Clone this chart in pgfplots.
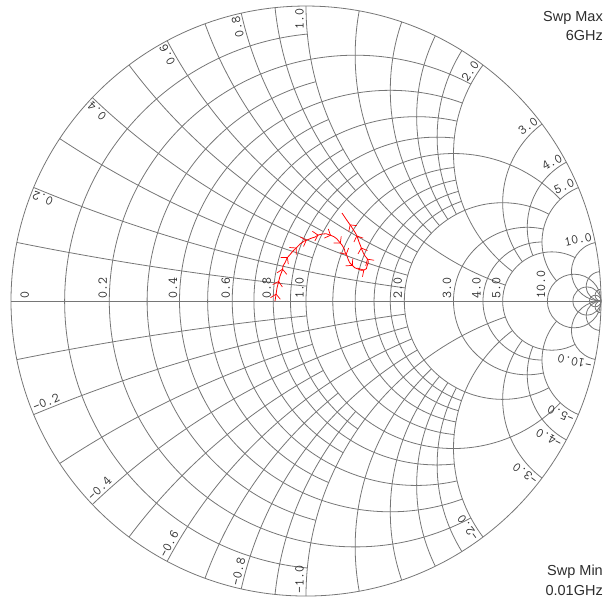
\documentclass[border=0pt]{standalone}
\usepackage{fontspec}
\usepackage{pgfplots}
\pgfplotsset{compat=1.18}
\usetikzlibrary{decorations.markings,arrows.meta}
\setsansfont{Liberation Sans}
\definecolor{gridc}{RGB}{118,118,118}
\definecolor{labc}{RGB}{45,45,45}
\definecolor{trace}{RGB}{255,0,0}
% resistance arc r=#1, drawn for |x|<=#2
\newcommand{\rarc}[2]{\draw[gridc,line width=0.8bp] (axis cs:{#1/(#1+1)},0) ++({180+2*atan(#2/(#1+1))}:{296.106pt/(#1+1)}) arc[start angle={180+2*atan(#2/(#1+1))}, end angle={180-2*atan(#2/(#1+1))}, radius={296.106pt/(#1+1)}];}
\newcommand{\rcirc}[1]{\draw[gridc,line width=0.8bp] (axis cs:{#1/(#1+1)},0) circle[radius={296.106pt/(#1+1)}];}
% reactance arcs +-#1, drawn for r<=#2
\newcommand{\xarc}[2]{%
\draw[gridc,line width=0.8bp] (axis cs:1,{1/#1}) ++({90+2*atan(1/#1)}:{296.106pt/#1}) arc[start angle={90+2*atan(1/#1)}, end angle={90+2*atan((#2+1)/#1)}, radius={296.106pt/#1}];
\draw[gridc,line width=0.8bp] (axis cs:1,{-1/#1}) ++({-90-2*atan(1/#1)}:{296.106pt/#1}) arc[start angle={-90-2*atan(1/#1)}, end angle={-90-2*atan((#2+1)/#1)}, radius={296.106pt/#1}];}
\newcommand{\xfull}[1]{%
\draw[gridc,line width=0.8bp] (axis cs:1,{1/#1}) ++({90+2*atan(1/#1)}:{296.106pt/#1}) arc[start angle={90+2*atan(1/#1)}, end angle=270, radius={296.106pt/#1}];
\draw[gridc,line width=0.8bp] (axis cs:1,{-1/#1}) ++({-90-2*atan(1/#1)}:{296.106pt/#1}) arc[start angle={-90-2*atan(1/#1)}, end angle=-270, radius={296.106pt/#1}];}
% labels on the real axis
\newcommand{\rlab}[2]{\node[rotate=90,anchor=south west,inner sep=2bp,text=labc,font=\ttfamily\fontsize{13.5bp}{14bp}\selectfont] at (axis cs:{(#1-1)/(#1+1)},0) {#2};}
% labels on the rim
\newcommand{\xlab}[2]{%
\node[rotate={180-2*atan(#1)},anchor=south east,inner sep=2bp,text=labc,font=\ttfamily\fontsize{13.5bp}{14bp}\selectfont] at (axis cs:{cos(180-2*atan(#1))},{sin(180-2*atan(#1))}) {#2};
\node[rotate={2*atan(#1)},anchor=south west,inner sep=2bp,text=labc,font=\ttfamily\fontsize{13.5bp}{14bp}\selectfont] at (axis cs:{cos(180-2*atan(#1))},{-sin(180-2*atan(#1))}) {-#2};}
\begin{document}
\begin{tikzpicture}
\useasboundingbox (0,0) rectangle (613bp,604bp);
\begin{axis}[x=295bp, y=295bp, xmin=-1.03729, xmax=1.04068, ymin=-1.02712, ymax=1.02034,
  hide axis, clip=false, at={(0,0)}, anchor=south west]
% grid
\draw[gridc,line width=0.8bp] (axis cs:0,0) circle[radius=296.106pt];
\draw[gridc,line width=0.8bp] (axis cs:-1,0) -- (axis cs:1,0);
\rarc{0.1}{1}\rarc{0.3}{1}\rarc{0.5}{1}\rarc{0.7}{1}\rarc{0.9}{1}
\rarc{0.2}{2}\rarc{0.4}{2}\rarc{0.6}{2}\rarc{0.8}{2}
\rarc{1.2}{2}\rarc{1.4}{2}\rarc{1.6}{2}\rarc{1.8}{2}
\rarc{1}{5}\rarc{2}{5}\rarc{3}{5}\rarc{4}{5}
\rarc{5}{10}
\rcirc{10}\rcirc{20}\rcirc{50}
\xarc{0.1}{1}\xarc{0.3}{1}\xarc{0.5}{1}\xarc{0.7}{1}\xarc{0.9}{1}
\xarc{0.2}{2}\xarc{0.4}{2}\xarc{0.6}{2}\xarc{0.8}{2}
\xarc{1.2}{2}\xarc{1.4}{2}\xarc{1.6}{2}\xarc{1.8}{2}
\xarc{1}{5}\xarc{2}{5}\xarc{3}{5}\xarc{4}{5}
\xarc{5}{10}
\xfull{10}\xfull{20}\xfull{50}
% labels
\node[rotate=90,anchor=north west,inner sep=2bp,text=labc,font=\ttfamily\fontsize{13.5bp}{14bp}\selectfont] at (axis cs:-0.975,0) {0};
\rlab{0.2}{0.2}\rlab{0.4}{0.4}\rlab{0.6}{0.6}\rlab{0.8}{0.8}\rlab{1}{1.0}
\rlab{2}{2.0}\rlab{3}{3.0}\rlab{4}{4.0}\rlab{5}{5.0}\rlab{10}{10.0}
\xlab{0.2}{0.2}\xlab{0.4}{0.4}\xlab{0.6}{0.6}\xlab{0.8}{0.8}\xlab{1}{1.0}
\xlab{2}{2.0}\xlab{3}{3.0}\xlab{4}{4.0}\xlab{5}{5.0}\xlab{10}{10.0}
% sweep notes
\node[anchor=base east,inner sep=0,font=\sffamily\fontsize{14.5bp}{16bp}\selectfont,text=labc] at (axis cs:1.0068,0.9475) {Swp Max};
\node[anchor=base east,inner sep=0,font=\sffamily\fontsize{14.5bp}{16bp}\selectfont,text=labc] at (axis cs:1.0068,0.8847) {6GHz};
\node[anchor=base east,inner sep=0,font=\sffamily\fontsize{14.5bp}{16bp}\selectfont,text=labc] at (axis cs:1.0068,-0.9288) {Swp Min};
\node[anchor=base east,inner sep=0,font=\sffamily\fontsize{14.5bp}{16bp}\selectfont,text=labc] at (axis cs:1.0068,-0.9966) {0.01GHz};
% trace
\addplot[trace, line width=0.8bp, no markers,
  postaction={decorate},
  decoration={markings, mark=between positions 0.035 and 0.98 step 0.06 with {\arrow{Straight Barb[length=4.5bp,width=10bp,line width=0.7bp]}}}]
coordinates {
(-0.1051,0.0000) (-0.1020,0.0200) (-0.0983,0.0441) (-0.0930,0.0650) (-0.0881,0.0847)
(-0.0800,0.1050) (-0.0780,0.1186) (-0.0700,0.1320) (-0.0644,0.1458) (-0.0520,0.1600)
(-0.0441,0.1695) (-0.0300,0.1830) (-0.0203,0.1932) (-0.0050,0.2040) (0.0034,0.2068)
(0.0180,0.2130) (0.0305,0.2169) (0.0420,0.2240) (0.0542,0.2271) (0.0680,0.2280)
(0.0814,0.2237) (0.0950,0.2180) (0.1051,0.2102) (0.1150,0.1980) (0.1220,0.1898)
(0.1300,0.1760) (0.1322,0.1661) (0.1390,0.1530) (0.1424,0.1424) (0.1480,0.1300)
(0.1559,0.1220) (0.1650,0.1130) (0.1763,0.1085) (0.1880,0.1040) (0.1966,0.1051)
(0.2050,0.1100) (0.2068,0.1186) (0.2110,0.1300) (0.2102,0.1390) (0.2050,0.1470)
(0.2000,0.1525) (0.1940,0.1640) (0.1898,0.1729) (0.1850,0.1870) (0.1797,0.2000)
(0.1750,0.2140) (0.1695,0.2271) (0.1610,0.2410) (0.1525,0.2542) (0.1440,0.2660)
(0.1356,0.2780) (0.1290,0.2880) (0.1220,0.2983)
};
\end{axis}
\end{tikzpicture}
\end{document}
